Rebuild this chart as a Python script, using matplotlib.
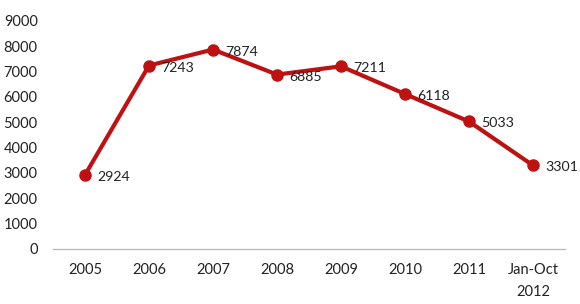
import matplotlib
matplotlib.use("Agg")
import matplotlib.pyplot as plt

categories = ["2005", "2006", "2007", "2008", "2009", "2010", "2011", "Jan-Oct\n2012"]
values = [2924, 7243, 7874, 6885, 7211, 6118, 5033, 3301]
yticks = [0, 1000, 2000, 3000, 4000, 5000, 6000, 7000, 8000, 9000]

plt.rcParams['font.family'] = ['Lato', 'DejaVu Sans']

fig = plt.figure(figsize=(5.8, 3.04), dpi=100)
ax = fig.add_axes([53/580, 1-249/304, 512/580, (249-21)/304])

x = list(range(len(categories)))
color = "#BE1212"
ax.plot(x, values, color=color, lw=3.0, marker='o', markersize=8, solid_capstyle='round')
for xi, v in zip(x, values):
    ax.annotate(f"{v}", (xi, v), xytext=(12, -2), textcoords='offset pixels',
                ha='left', va='center', fontsize=10.2, color='#222222')

ax.set_xlim(-0.5, len(categories) - 0.5)
ax.set_ylim(0, 9000)
ax.set_yticks(yticks)
ax.set_yticklabels([str(t) for t in yticks])
ax.set_xticks(x)
ax.set_xticklabels(categories, linespacing=1.75)
ax.tick_params(axis='both', length=0, labelsize=10.5, colors='#222222')
ax.tick_params(axis='y', pad=11)
ax.tick_params(axis='x', pad=10)
for s in ['top', 'right', 'left']:
    ax.spines[s].set_visible(False)
ax.spines['bottom'].set_color('#BBBBBB')
ax.spines['bottom'].set_linewidth(1.0)

fig.savefig("out.png", dpi=100)
